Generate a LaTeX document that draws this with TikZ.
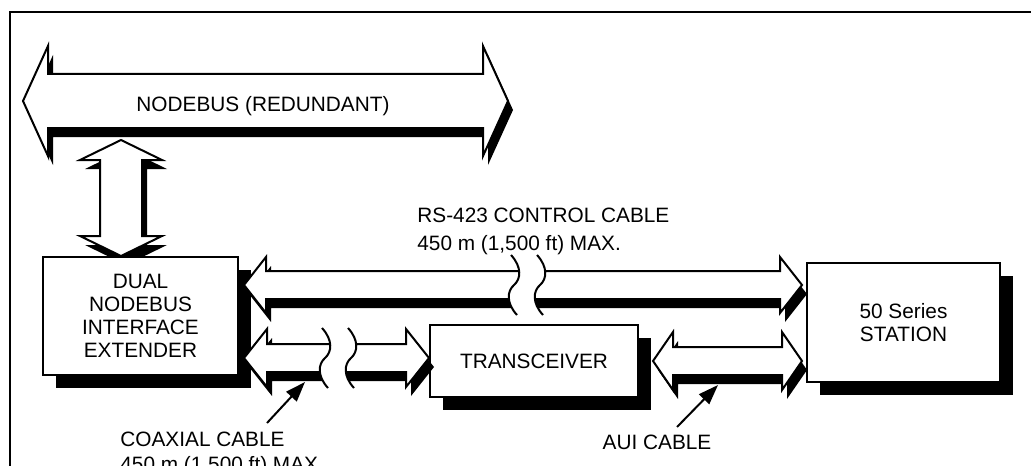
\documentclass[tikz,border=0pt]{standalone}
\usepackage{fontspec}
\setmainfont{Liberation Sans}
\usetikzlibrary{calc,shadows,arrows.meta,backgrounds}

\tikzset{
	box/.style={draw, line width=1pt, fill=white, align=center, inner sep=0pt,
		drop shadow={shadow xshift=6.5pt, shadow yshift=-6.5pt, fill=black, opacity=1}},
	blockarrow/.style={draw, line width=1pt, fill=white, line join=miter,
		preaction={fill=black, transform canvas={shift={(2.5pt,-4.5pt)}}}},
	pointer/.style={line width=1pt, -{Triangle[length=10pt,width=7pt]}},
	lbl/.style={inner sep=0pt, align=left},
	cablebreak/.pic={
		\fill[white] (-16,-30) .. controls (-5,-18) and (-6,-6) .. (-13,0) .. controls (-20,6) and (-21,18) .. (-10,30)
			-- (16,30) .. controls (5,18) and (6,6) .. (13,0) .. controls (20,-6) and (21,-18) .. (10,-30) -- cycle;
		\draw[line width=1pt] (-16,-30) .. controls (-5,-18) and (-6,-6) .. (-13,0) .. controls (-20,6) and (-21,18) .. (-10,30);
		\draw[line width=1pt] (10,-30) .. controls (21,-18) and (20,-6) .. (13,0) .. controls (6,6) and (5,18) .. (16,30);
	}
}

% horizontal double block arrow: left tip, right tip, shaft half, head half, head length
\newcommand{\dblarrowh}[5]{%
	\path[blockarrow] (#1) -- ($(#1)+(#5,-#4)$) -- ($(#1)+(#5,-#3)$) -- ($(#2)+(-#5,-#3)$) -- ($(#2)+(-#5,-#4)$)
		-- (#2) -- ($(#2)+(-#5,#4)$) -- ($(#2)+(-#5,#3)$) -- ($(#1)+(#5,#3)$) -- ($(#1)+(#5,#4)$) -- cycle;}
% vertical double block arrow: top tip, bottom tip, shaft half, head half, head length
\newcommand{\dblarrowv}[5]{%
	\path[blockarrow] (#1) -- ($(#1)+(#4,#5)$) -- ($(#1)+(#3,#5)$) -- ($(#2)+(#3,-#5)$) -- ($(#2)+(#4,-#5)$)
		-- (#2) -- ($(#2)+(-#4,-#5)$) -- ($(#2)+(-#3,-#5)$) -- ($(#1)+(-#3,#5)$) -- ($(#1)+(-#4,#5)$) -- cycle;}

\begin{document}
\begin{tikzpicture}[x=0.5pt, y=-0.5pt, font=\fontsize{10.4}{11.5}\selectfont]
	\useasboundingbox (0,0) rectangle (1031,465);
	% frame
	\draw[line width=1.2pt] (10,480) -- (10,12) -- (1040,12);
	% boxes
	\node[box, minimum width=97.5pt, minimum height=59pt] (dnie) at (140.5,316) {DUAL\\NODEBUS\\INTERFACE\\EXTENDER};
	\node[box, minimum width=104pt, minimum height=36pt] (trx) at (534,361) {TRANSCEIVER};
	\node[box, minimum width=96.5pt, minimum height=59.5pt] (station) at (903.5,322.5) {50 Series\\STATION};
	% nodebus
	\coordinate (nbL) at (23,101);
	\coordinate (nbR) at (508,101);
	\coordinate (vT) at (121,140);
	\coordinate (vB) at (dnie.north -| vT);
	\begin{scope}[on background layer]
		\dblarrowh{nbL}{nbR}{27}{55}{25}
		\dblarrowv{vT}{vB}{21}{41}{20}
	\end{scope}
	\node[lbl, anchor=base] (nbtext) at (263,112) {NODEBUS (REDUNDANT)};
	% cables
	\coordinate (rsL) at ($(dnie.east)+(5,-31)$);
	\coordinate (rsR) at ($(station.west)+(-4,-37.5)$);
	\coordinate (coL) at ($(dnie.east)+(5,42)$);
	\coordinate (coR) at ($(trx.west)+(0,-3)$);
	\coordinate (auL) at ($(trx.east)+(14,0)$);
	\coordinate (auR) at ($(station.west)+(-4,38.5)$);
	\dblarrowh{rsL}{rsR}{14}{28}{22}
	\dblarrowh{coL}{coR}{14}{29}{23}
	\dblarrowh{auL}{auR}{14}{29}{20}
	\pic at (527,285) {cablebreak};
	\pic at (338,358) {cablebreak};
	% labels
	\node[lbl, anchor=north west] (rstext) at (417,208) {RS-423 CONTROL CABLE\\[2.5pt]450 m (1,500 ft) MAX.};
	\node[lbl, anchor=north west] (coaxtext) at (120,432) {COAXIAL CABLE\\[1pt]450 m (1,500 ft) MAX.};
	\node[lbl, anchor=north] (auitext) at (657,435) {AUI CABLE};
	\coordinate (coaxtail) at (267,423);
	\coordinate (coaxtip) at (305,382);
	\coordinate (auitail) at (677,427);
	\coordinate (auitip) at (718,385);
	\draw[pointer] (coaxtail) -- (coaxtip);
	\draw[pointer] (auitail) -- (auitip);
\end{tikzpicture}
\end{document}
